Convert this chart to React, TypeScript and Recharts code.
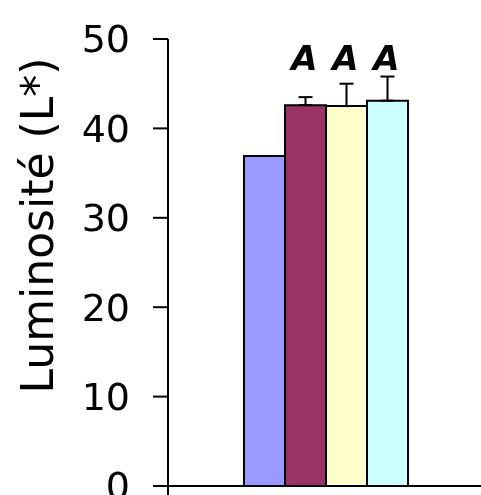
import { BarChart, Bar, XAxis, YAxis, ErrorBar, Label } from 'recharts'

const categories = ['Échantillon']
const seriesKeys = ['s1', 's2', 's3', 's4']
const seriesValues = [36.9, 42.6, 42.5, 43.1]
const seriesErrors = [0, 0.9, 2.5, 2.7]
const seriesLetters = ['', 'A', 'A', 'A']
const yTicks = [0, 10, 20, 30, 40, 50]
const LETTER_LEVEL = 46.5

const colors = ['#9999ff', '#993366', '#ffffcc', '#ccffff']
const FONT = "'DejaVu Sans', sans-serif"

const data = categories.map((name) => {
  const row: Record<string, any> = { name }
  seriesKeys.forEach((k, i) => {
    row[k] = seriesValues[i]
    row[k + 'err'] = [0, seriesErrors[i]]
  })
  return row
})

function letterLabel(i: number) {
  return (p: any) => {
    const letter = seriesLetters[i]
    if (!letter) return null
    const x = Number(p.x)
    const y = Number(p.y)
    const w = Number(p.width)
    const h = Number(p.height)
    const bottom = y + h
    const ly = bottom - (LETTER_LEVEL * h) / seriesValues[i]
    return (
      <text
        x={x + w / 2 - 1}
        y={ly}
        textAnchor="middle"
        fontFamily={FONT}
        fontWeight="bold"
        fontStyle="italic"
        fontSize={34}
        fill="#000"
      >
        {letter}
      </text>
    )
  }
}

function BoundaryTick(props: any) {
  const vb = props.viewBox
  return <line x1={vb.x} y1={vb.y} x2={vb.x} y2={vb.y + 12} stroke="#000" strokeWidth={2} />
}

function AxisTitle(props: any) {
  const vb = props.viewBox
  const cx = vb.x + 29
  const cy = vb.y + vb.height / 2 - 37
  return (
    <text
      x={cx}
      y={cy}
      transform={`rotate(-90 ${cx} ${cy})`}
      textAnchor="middle"
      dominantBaseline="central"
      fontFamily={FONT}
      fontSize={44}
      fill="#000"
    >
      Luminosité (L*)
    </text>
  )
}

export default function App() {
  return (
    <div style={{ position: 'fixed', left: 8, top: 8 }}>
      <BarChart
        width={482}
        height={487}
        data={data}
        margin={{ top: 31, right: 0, bottom: 0, left: 0 }}
        barGap={0}
        barSize={41}
      >
        <XAxis
          dataKey="name"
          height={9}
          padding={{ left: 0, right: 6 }}
          axisLine={{ stroke: '#000', strokeWidth: 2 }}
          tickLine={false}
          tick={false}
        >
          <Label content={<BoundaryTick />} />
        </XAxis>
        <YAxis
          width={160}
          domain={[0, 50]}
          ticks={yTicks}
          interval={0}
          tickSize={15}
          tickMargin={23}
          axisLine={{ stroke: '#000', strokeWidth: 2 }}
          tickLine={{ stroke: '#000', strokeWidth: 2 }}
          tick={{ fontSize: 38, fill: '#000', fontFamily: FONT }}
        >
          <Label content={<AxisTitle />} />
        </YAxis>
        {seriesKeys.map((k, i) => (
          <Bar
            key={k}
            dataKey={k}
            fill={colors[i]}
            stroke="#000"
            strokeWidth={2}
            isAnimationActive={false}
            label={letterLabel(i)}
          >
            {seriesErrors[i] > 0 && (
              <ErrorBar
                dataKey={k + 'err'}
                direction="y"
                width={7}
                stroke="#000"
                strokeWidth={2}
                isAnimationActive={false}
              />
            )}
          </Bar>
        ))}
      </BarChart>
    </div>
  )
}
